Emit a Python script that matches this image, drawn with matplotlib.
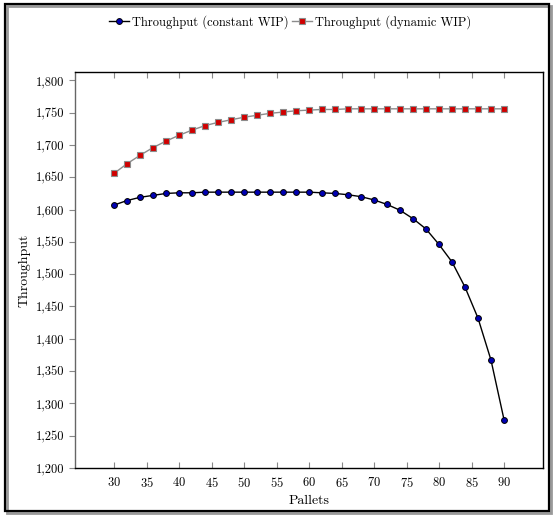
import matplotlib
matplotlib.use("Agg")
from matplotlib import pyplot as plt
from matplotlib.patches import Rectangle
from matplotlib.ticker import FuncFormatter
import numpy as np

plt.rcParams['font.family'] = 'serif'
plt.rcParams['font.serif'] = ['cmr10', 'DejaVu Serif']
plt.rcParams['mathtext.fontset'] = 'cm'
plt.rcParams['axes.formatter.use_mathtext'] = True

pallets = np.arange(30, 91, 2)

constant_wip = [1607, 1614, 1619, 1622, 1625, 1626, 1626, 1627, 1627, 1627,
                1627, 1627, 1627, 1627, 1627, 1627, 1626, 1625, 1623, 1620,
                1615, 1608, 1599, 1586, 1570, 1546, 1519, 1480, 1432, 1367,
                1275]

dynamic_wip = [1656, 1671, 1684, 1696, 1706, 1715, 1723, 1730, 1735, 1739,
               1743, 1746, 1749, 1751, 1753, 1754, 1755, 1755, 1756, 1756,
               1756, 1756, 1756, 1756, 1756, 1756, 1756, 1756, 1756, 1756,
               1756]

x_ticks = np.arange(30, 91, 5)
y_ticks = np.arange(1200, 1801, 50)

fig = plt.figure(figsize=(5.54, 5.16), dpi=100)
ax = fig.add_axes([75/554, 1-468/516, (543-75)/554, (468-72)/516])

ax.plot(pallets, constant_wip, color='black', lw=1.0, marker='o', ms=4.2,
        mfc='#0000b4', mec='black', mew=0.7, label='Throughput (constant WIP)')
ax.plot(pallets, dynamic_wip, color='#8c8c8c', lw=1.0, marker='s', ms=4.0,
        mfc='#d00000', mec='#8c8c8c', mew=0.8, label='Throughput (dynamic WIP)')

ax.set_xlim(24, 96)
ax.set_ylim(1200, 1813)
ax.set_xticks(x_ticks)
ax.set_yticks(y_ticks)
ax.yaxis.set_major_formatter(FuncFormatter(lambda v, p: '{:,.0f}'.format(v)))

ax.tick_params(axis='x', direction='in', top=True, length=4, color='#888888',
               labelsize=9, pad=6)
ax.tick_params(axis='y', direction='out', length=4, color='#888888',
               labelsize=9)

for s in ax.spines.values():
    s.set_linewidth(1.0)
ax.spines['left'].set_color('#666666')

ax.set_xlabel('Pallets', fontsize=10, labelpad=3)
ax.set_ylabel('Throughput', fontsize=10, labelpad=4)

fig.legend(loc='center', bbox_to_anchor=(290/554, 1-22/516), ncol=2,
           frameon=False, fontsize=9, handlelength=1.6, handletextpad=0.2,
           columnspacing=0.3)

# outer frame with a small shadow
fig.patches.append(Rectangle((7/554, 3/516), 544/554, 507/516, transform=fig.transFigure,
                             facecolor='none', edgecolor='#999999', lw=2.0))
fig.patches.append(Rectangle((5/554, 5/516), 544/554, 507/516, transform=fig.transFigure,
                             facecolor='none', edgecolor='black', lw=1.6))

fig.savefig('out.png', dpi=100)
